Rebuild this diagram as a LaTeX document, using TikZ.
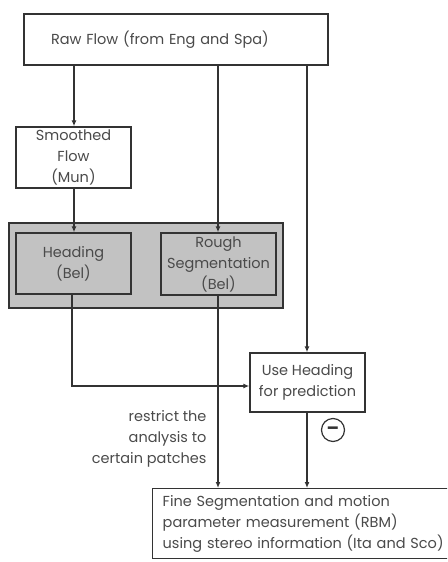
\documentclass[tikz,border=0pt]{standalone}
\usepackage{fontspec}
\setmainfont{Poppins}
\usetikzlibrary{arrows.meta}
\definecolor{ln}{HTML}{333333}
\definecolor{tx}{HTML}{4A4A4A}
\definecolor{gf}{HTML}{C2C2C2}
\begin{document}
\begin{tikzpicture}[x=1pt,y=-1pt,
  every node/.style={font=\fontsize{14.5}{21}\selectfont, text=tx},
  box/.style={draw=ln, line width=1.4pt, fill=white, inner sep=0pt, align=center},
  gbox/.style={box, fill=gf},
  arr/.style={draw=ln, line width=1.4pt, -{Latex[length=6pt,width=5pt]}},
  ]
\useasboundingbox (0,0) rectangle (447,562);
\begin{scope}
\clip (0,0) rectangle (447,562);
% container
\node[draw=ln, line width=1.4pt, fill=gf, minimum width=274pt, minimum height=85pt] (grp) at (146,265.5) {};
\node[box, minimum width=304pt, minimum height=51pt, text width=250pt, inner xsep=27pt, align=left] (raw) at (176,39.5) {Raw Flow (from Eng and Spa)};
\node[box, minimum width=115pt, minimum height=61pt] (smooth) at (73.5,157.5) {Smoothed\\Flow\\(Mun)};
\node[gbox, minimum width=115pt, minimum height=61pt] (head) at (73.5,263.5) {Heading\\(Bel)};
\node[gbox, minimum width=115pt, minimum height=62pt] (rough) at (218.5,264) {Rough\\Segmentation\\(Bel)};
\node[box, minimum width=115pt, minimum height=59pt] (use) at (307.5,382.5) {Use Heading\\for prediction};
\node[box, anchor=north west, minimum height=70pt, text width=287pt, inner xsep=10pt, align=left] (fine) at (152,488) {Fine Segmentation and motion\\parameter measurement (RBM)\\using stereo information (Ita and Sco)};
\node[anchor=east, align=right] (restrict) at (210,439) {restrict the\\analysis to\\certain patches};
\node[draw=ln, line width=1.2pt, circle, minimum size=23pt, inner sep=0pt, text=ln] (minus) at (333,430) {};
\node[font=\bfseries\fontsize{18}{18}\selectfont, text=ln, inner sep=0pt, anchor=base] at ([yshift=-4.5pt]minus.center) {--};
% connectors
\draw[arr] (raw.south -| 74,0) -- (smooth.north -| 74,0);
\draw[arr] (smooth.south -| 74,0) -- (head.north -| 74,0);
\draw[arr] (raw.south -| 218,0) -- (rough.north -| 218,0);
\draw[arr] (raw.south -| 307,0) -- (use.north -| 307,0);
\draw[arr] (head.south -| 72,0) |- (use.west |- 0,386);
\draw[arr] (rough.south -| 218,0) -- (fine.north -| 218,0);
\draw[arr] (use.south -| 307,0) -- (fine.north -| 307,0);
\end{scope}
\end{tikzpicture}
\end{document}
